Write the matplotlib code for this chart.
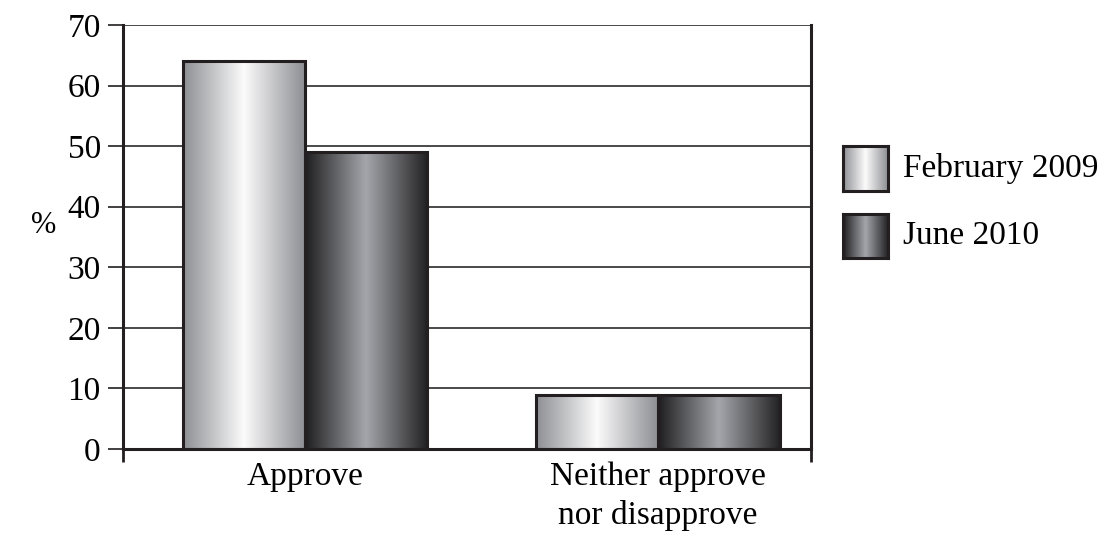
import numpy as np
import matplotlib.pyplot as plt
from matplotlib.colors import LinearSegmentedColormap

categories = ["Approve", "Neither approve\nnor disapprove"]
series = ["February 2009", "June 2010"]
feb_2009 = [64, 9]
jun_2010 = [49, 9]
yticks = [0, 10, 20, 30, 40, 50, 60, 70]

plt.rcParams['font.family'] = ['Liberation Serif', 'DejaVu Serif']

# gradient colour maps for the two series (left edge -> centre -> right edge)
cmap_feb = LinearSegmentedColormap.from_list(
    "feb", [(0, "#8e8f94"), (0.5, "#fbfbfb"), (1, "#8e8f94")])
cmap_jun = LinearSegmentedColormap.from_list(
    "jun", [(0, "#1e1e20"), (0.5, "#a5a6ab"), (1, "#232325")])
cmaps = [cmap_feb, cmap_jun]

grad = np.linspace(0, 1, 256).reshape(1, -1)
fs = 24

fig = plt.figure(figsize=(11.11, 5.38), dpi=100)
ax = fig.add_axes([0.1107, 0.1654, 0.6193, 0.7881])

x = np.arange(len(categories))
w = 0.345
for i, vals in enumerate([feb_2009, jun_2010]):
    offs = (i - 0.5) * w
    bars = ax.bar(x + offs, vals, w, facecolor="none", edgecolor="#231f20",
                  linewidth=2.2, zorder=4)
    for b in bars:
        im = ax.imshow(grad, cmap=cmaps[i], aspect="auto", zorder=3,
                       extent=[b.get_x(), b.get_x() + b.get_width(),
                               0, b.get_height()])
        im.set_clip_path(b)

ax.set_xlim(-0.516, 1.433)
ax.set_ylim(0, 70)
ax.set_yticks(yticks)
ax.set_yticklabels([str(v) for v in yticks], fontsize=fs)
ax.set_xticks(x)
ax.set_xticklabels(categories, fontsize=fs, linespacing=1.35)
ax.tick_params(axis="x", which="major", length=0, pad=9)
ax.set_xticks([-0.516, 1.433], minor=True)
ax.tick_params(axis="x", which="minor", length=9.5, width=2, color="#231f20")
ax.tick_params(axis="y", length=11, width=1.2, color="#231f20", pad=5)

ax.yaxis.grid(True, color="#3a3a3a", linewidth=1.3)
ax.set_axisbelow(True)
for s in ["left", "right", "bottom"]:
    ax.spines[s].set_linewidth(2.2)
    ax.spines[s].set_color("#231f20")
ax.spines["top"].set_visible(False)
ax.spines["bottom"].set_zorder(5)

fig.text(0.039, 0.58, "%", fontsize=22, ha="center", va="center")

# legend drawn as gradient swatches
sw_y = [0.645, 0.52]
for i, name in enumerate(series):
    sax = fig.add_axes([0.7588, sw_y[i], 0.0405, 0.083])
    sax.imshow(grad, cmap=cmaps[i], aspect="auto")
    sax.set_xticks([])
    sax.set_yticks([])
    for s in sax.spines.values():
        s.set_linewidth(2.2)
        s.set_color("#231f20")
    fig.text(0.813, sw_y[i] + 0.0415, name, fontsize=fs, va="center")

fig.savefig("out.png", dpi=100)
